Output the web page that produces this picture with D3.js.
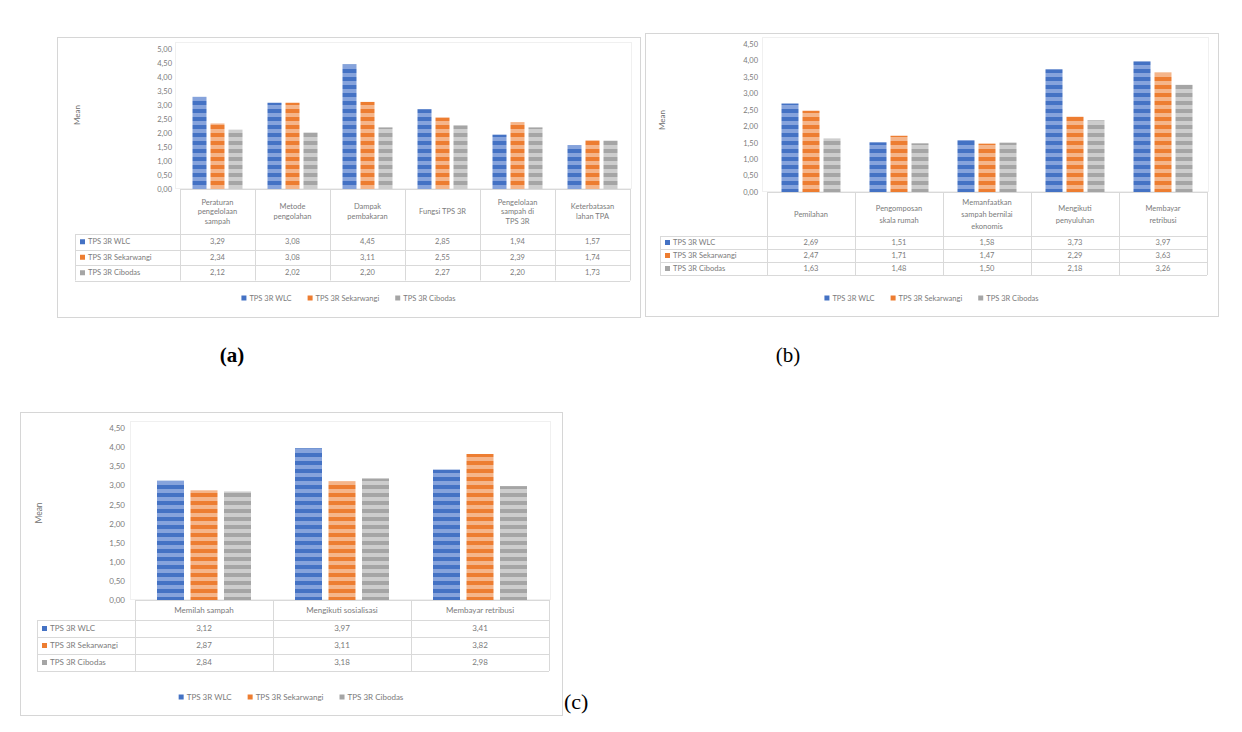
<!DOCTYPE html>
<html><head><meta charset="utf-8">
<script src="https://cdn.jsdelivr.net/npm/d3@7"></script>
<style>
html,body{margin:0;padding:0;background:#fff;}
svg{display:block;}
</style></head><body>
<svg id="chart" width="1242" height="732"></svg>
<script>
// ---------- DATA ----------
const seriesNames = ["TPS 3R WLC", "TPS 3R Sekarwangi", "TPS 3R Cibodas"];
const seriesColors = ["#4472C4", "#ED7D31", "#A5A5A5"];
const stripeColors = ["#86A3DC", "#F5B58A", "#CDCDCD"];

const categoriesA = ["Peraturan\npengelolaan\nsampah", "Metode\npengolahan", "Dampak\npembakaran", "Fungsi TPS 3R", "Pengelolaan\nsampah di\nTPS 3R", "Keterbatasan\nlahan TPA"];
const wlcA = [3.29, 3.08, 4.45, 2.85, 1.94, 1.57];
const sekarwangiA = [2.34, 3.08, 3.11, 2.55, 2.39, 1.74];
const cibodasA = [2.12, 2.02, 2.20, 2.27, 2.20, 1.73];
const ticksA = [0, 0.5, 1, 1.5, 2, 2.5, 3, 3.5, 4, 4.5, 5];

const categoriesB = ["Pemilahan", "Pengomposan\nskala rumah", "Memanfaatkan\nsampah bernilai\nekonomis", "Mengikuti\npenyuluhan", "Membayar\nretribusi"];
const wlcB = [2.69, 1.51, 1.58, 3.73, 3.97];
const sekarwangiB = [2.47, 1.71, 1.47, 2.29, 3.63];
const cibodasB = [1.63, 1.48, 1.50, 2.18, 3.26];
const ticksB = [0, 0.5, 1, 1.5, 2, 2.5, 3, 3.5, 4, 4.5];

const categoriesC = ["Memilah sampah", "Mengikuti sosialisasi", "Membayar retribusi"];
const wlcC = [3.12, 3.97, 3.41];
const sekarwangiC = [2.87, 3.11, 3.82];
const cibodasC = [2.84, 3.18, 2.98];
const ticksC = [0, 0.5, 1, 1.5, 2, 2.5, 3, 3.5, 4, 4.5];

const axisTitle = "Mean";
const panelLabels = ["(a)", "(b)", "(c)"];

// ---------- DRAW ----------
const locale = d3.formatLocale({decimal: ",", thousands: ".", grouping: [3], currency: ["", ""]});
const fmt = locale.format(".2f");
const svg = d3.select("#chart");
const FONT = "Lato, 'Open Sans', sans-serif";
const TEXT = "#7b7b7b";
const GRID = "#d9d9d9";

const defs = svg.append("defs");
seriesColors.forEach((c, i) => {
  const p = defs.append("pattern").attr("id", "stripe" + i)
    .attr("patternUnits", "userSpaceOnUse").attr("width", 8).attr("height", 8);
  p.append("rect").attr("width", 8).attr("height", 8).attr("fill", c);
  p.append("rect").attr("y", 1).attr("width", 8).attr("height", 4).attr("fill", stripeColors[i]);
});

function drawPanel(cfg) {
  const g = svg.append("g");
  const series = cfg.series;
  // outer box
  g.append("rect").attr("x", cfg.box[0] + 0.5).attr("y", cfg.box[1] + 0.5)
    .attr("width", cfg.box[2]).attr("height", cfg.box[3])
    .attr("fill", "#fff").attr("stroke", "#d6d6d6");

  const x = d3.scaleBand().domain(d3.range(cfg.cats.length)).range(cfg.plotX).padding(0);
  const groupW = 3 * cfg.barW + 2 * cfg.gap;
  const xs = d3.scaleBand().domain([0, 1, 2]).range([-groupW / 2, groupW / 2])
    .paddingInner(cfg.gap / (cfg.barW + cfg.gap)).paddingOuter(0);
  const y = d3.scaleLinear().domain([0, cfg.yMax]).range([cfg.zeroY, cfg.topY]);

  // faint plot area frame
  g.append("rect").attr("x", cfg.plotX[0] - 4.5).attr("y", cfg.topY - 6.5)
    .attr("width", cfg.plotX[1] - cfg.plotX[0] + 6).attr("height", cfg.zeroY - cfg.topY + 6)
    .attr("fill", "none").attr("stroke", "#f0f0f0");

  // y axis
  const ax = g.append("g").attr("transform", `translate(${cfg.tickX},0)`)
    .call(d3.axisLeft(y).tickValues(cfg.ticks).tickFormat(fmt).tickSize(0).tickPadding(0));
  ax.select(".domain").remove();
  ax.selectAll("text").attr("fill", TEXT).style("font-family", FONT).style("font-size", cfg.fs + "px");

  // axis title
  g.append("text").attr("transform", `translate(${cfg.meanX},${cfg.meanY}) rotate(-90)`)
    .attr("text-anchor", "middle").attr("fill", "#6f6f6f")
    .style("font-family", FONT).style("font-size", (cfg.fs + 0.5) + "px").text(axisTitle);

  // bars
  series.forEach((vals, si) => {
    g.append("g").selectAll("rect").data(vals).join("rect")
      .attr("x", (d, i) => x(i) + x.bandwidth() / 2 + xs(si))
      .attr("y", d => y(d))
      .attr("width", xs.bandwidth())
      .attr("height", d => cfg.zeroY - y(d))
      .attr("fill", `url(#stripe${si})`);
  });

  // table grid
  const tx0 = cfg.tableX, tx1 = cfg.plotX[1];
  const rowTop = cfg.headerBottom;
  const tableBottom = rowTop + 3 * cfg.rowH;
  const lines = g.append("g").attr("stroke", GRID).attr("stroke-width", 1);
  // axis line
  lines.append("line").attr("x1", cfg.plotX[0]).attr("x2", tx1)
    .attr("y1", cfg.zeroY + 0.5).attr("y2", cfg.zeroY + 0.5);
  for (let r = 0; r <= 3; r++) {
    const yy = Math.round(rowTop + r * cfg.rowH) + 0.5;
    lines.append("line").attr("x1", tx0).attr("x2", tx1).attr("y1", yy).attr("y2", yy);
  }
  d3.range(cfg.cats.length + 1).forEach(i => {
    const xx = Math.round(i < cfg.cats.length ? x(i) : cfg.plotX[1]) + 0.5;
    lines.append("line").attr("x1", xx).attr("x2", xx).attr("y1", cfg.zeroY).attr("y2", tableBottom);
  });
  lines.append("line").attr("x1", tx0 + 0.5).attr("x2", tx0 + 0.5).attr("y1", rowTop).attr("y2", tableBottom);

  // header text
  cfg.cats.forEach((c, i) => {
    const parts = c.split("\n");
    const cy = (cfg.zeroY + rowTop) / 2;
    const t = g.append("text").attr("text-anchor", "middle").attr("fill", TEXT)
      .style("font-family", FONT).style("font-size", cfg.fs + "px");
    parts.forEach((p, k) => {
      t.append("tspan").attr("x", x(i) + x.bandwidth() / 2)
        .attr("y", cy + (k - (parts.length - 1) / 2) * cfg.lh + cfg.fs * 0.35).text(p);
    });
  });

  // rows
  series.forEach((vals, si) => {
    const cy = rowTop + (si + 0.5) * cfg.rowH;
    g.append("rect").attr("x", tx0 + 5).attr("y", cy - 2.5).attr("width", 5).attr("height", 5)
      .attr("fill", seriesColors[si]);
    g.append("text").attr("x", tx0 + 13).attr("y", cy + cfg.fs * 0.35).attr("fill", TEXT)
      .style("font-family", FONT).style("font-size", cfg.fs + "px").text(seriesNames[si]);
    vals.forEach((v, i) => {
      g.append("text").attr("x", x(i) + x.bandwidth() / 2).attr("y", cy + cfg.fs * 0.35)
        .attr("text-anchor", "middle").attr("fill", TEXT)
        .style("font-family", FONT).style("font-size", cfg.fs + "px").text(fmt(v));
    });
  });

  // legend
  const leg = g.append("g");
  let cursor = 0;
  seriesNames.forEach((n, si) => {
    leg.append("rect").attr("x", cursor).attr("y", -2.5).attr("width", 5).attr("height", 5).attr("fill", seriesColors[si]);
    const t = leg.append("text").attr("x", cursor + 8).attr("y", cfg.fs * 0.35).attr("fill", TEXT)
      .style("font-family", FONT).style("font-size", cfg.fs + "px").text(n);
    cursor += 8 + t.node().getComputedTextLength() + 16;
  });
  cursor -= 16;
  const cx = cfg.box[0] + cfg.box[2] / 2;
  leg.attr("transform", `translate(${cx - cursor / 2},${cfg.legendY})`);
}

drawPanel({
  box: [57, 37, 583, 280], plotX: [180, 630], zeroY: 189, topY: 49, yMax: 5, ticks: ticksA,
  cats: categoriesA, series: [wlcA, sekarwangiA, cibodasA],
  barW: 14, gap: 4, tickX: 172, meanX: 80, meanY: 115,
  tableX: 75, headerBottom: 234, rowH: 15.5, legendY: 298, fs: 7.5, lh: 9.5
});
drawPanel({
  box: [645, 33, 573, 283], plotX: [767, 1207], zeroY: 192, topY: 44, yMax: 4.5, ticks: ticksB,
  cats: categoriesB, series: [wlcB, sekarwangiB, cibodasB],
  barW: 17, gap: 4, tickX: 758, meanX: 665, meanY: 120,
  tableX: 660, headerBottom: 236, rowH: 13, legendY: 298, fs: 7.5, lh: 12
});
drawPanel({
  box: [20, 412, 542, 303], plotX: [135, 549], zeroY: 600, topY: 428, yMax: 4.5, ticks: ticksC,
  cats: categoriesC, series: [wlcC, sekarwangiC, cibodasC],
  barW: 27, gap: 6.5, tickX: 125, meanX: 42, meanY: 513,
  tableX: 37, headerBottom: 620, rowH: 17, legendY: 697, fs: 8, lh: 10
});

// panel labels
const SERIF = "'Liberation Serif', 'DejaVu Serif', serif";
svg.append("text").attr("x", 232).attr("y", 362).attr("text-anchor", "middle")
  .style("font-family", SERIF).style("font-size", "21px").style("font-weight", "bold").attr("fill", "#000").text(panelLabels[0]);
svg.append("text").attr("x", 788).attr("y", 362).attr("text-anchor", "middle")
  .style("font-family", SERIF).style("font-size", "21px").attr("fill", "#000").text(panelLabels[1]);
svg.append("text").attr("x", 564).attr("y", 709)
  .style("font-family", SERIF).style("font-size", "22px").attr("fill", "#000").text(panelLabels[2]);
</script>
</body></html>
